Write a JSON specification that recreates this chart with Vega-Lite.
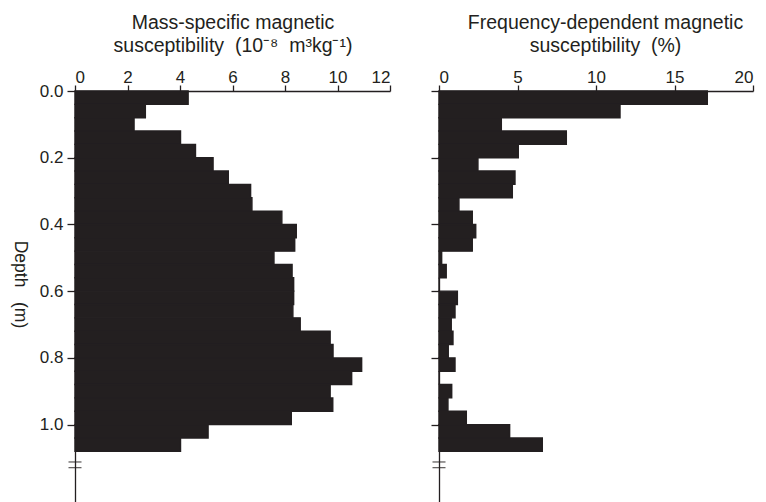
{
  "$schema": "https://vega.github.io/schema/vega-lite/v6.json",
  "background": "white",
  "padding": {"left": 10, "top": 12, "right": 5, "bottom": 0},
  "bounds": "flush",
  "spacing": 49,
  "config": {
    "view": {"stroke": null},
    "font": "Liberation Sans",
    "axis": {
      "grid": false,
      "domainColor": "#231f20",
      "domainWidth": 1.3,
      "tickColor": "#231f20",
      "tickWidth": 1.3,
      "labelColor": "#231f20",
      "titleColor": "#231f20",
      "labelFont": "Liberation Sans",
      "titleFont": "Liberation Sans",
      "labelFontSize": 17,
      "titleFontSize": 19.5,
      "titleFontWeight": "normal"
    }
  },
  "datasets": {
    "core": [
      {"top": 0.00, "bottom": 0.04, "chi": 4.31, "fd": 17.09},
      {"top": 0.04, "bottom": 0.08, "chi": 2.68, "fd": 11.53},
      {"top": 0.08, "bottom": 0.12, "chi": 2.25, "fd": 3.97},
      {"top": 0.12, "bottom": 0.16, "chi": 4.02, "fd": 8.11},
      {"top": 0.16, "bottom": 0.20, "chi": 4.59, "fd": 5.05},
      {"top": 0.20, "bottom": 0.24, "chi": 5.26, "fd": 2.48},
      {"top": 0.24, "bottom": 0.28, "chi": 5.84, "fd": 4.84},
      {"top": 0.28, "bottom": 0.32, "chi": 6.69, "fd": 4.67},
      {"top": 0.32, "bottom": 0.36, "chi": 6.74, "fd": 1.27},
      {"top": 0.36, "bottom": 0.40, "chi": 7.88, "fd": 2.12},
      {"top": 0.40, "bottom": 0.44, "chi": 8.43, "fd": 2.34},
      {"top": 0.44, "bottom": 0.48, "chi": 8.37, "fd": 2.12},
      {"top": 0.48, "bottom": 0.52, "chi": 7.58, "fd": 0.17},
      {"top": 0.52, "bottom": 0.56, "chi": 8.27, "fd": 0.46},
      {"top": 0.56, "bottom": 0.60, "chi": 8.33, "fd": 0},
      {"top": 0.60, "bottom": 0.64, "chi": 8.33, "fd": 1.17},
      {"top": 0.64, "bottom": 0.68, "chi": 8.30, "fd": 1.02},
      {"top": 0.68, "bottom": 0.72, "chi": 8.58, "fd": 0.78},
      {"top": 0.72, "bottom": 0.76, "chi": 9.72, "fd": 0.89},
      {"top": 0.76, "bottom": 0.80, "chi": 9.83, "fd": 0.59},
      {"top": 0.80, "bottom": 0.84, "chi": 10.92, "fd": 1.02},
      {"top": 0.84, "bottom": 0.88, "chi": 10.54, "fd": 0},
      {"top": 0.88, "bottom": 0.92, "chi": 9.72, "fd": 0.81},
      {"top": 0.92, "bottom": 0.96, "chi": 9.82, "fd": 0.57},
      {"top": 0.96, "bottom": 1.00, "chi": 8.24, "fd": 1.74},
      {"top": 1.00, "bottom": 1.04, "chi": 5.07, "fd": 4.50},
      {"top": 1.04, "bottom": 1.08, "chi": 4.02, "fd": 6.58}
    ],
    "breaks": [
      {"depth": 1.112},
      {"depth": 1.129}
    ]
  },
  "hconcat": [
    {
      "width": 315,
      "height": 411,
      "layer": [
        {
          "data": {"name": "core"},
          "mark": {"type": "rect", "fill": "#231f20", "stroke": "#231f20", "strokeWidth": 1.4, "strokeOpacity": 1, "fillOpacity": 1},
          "encoding": {
            "y": {
              "field": "top",
              "type": "quantitative",
              "scale": {"domain": [0, 1.232], "reverse": true, "nice": false, "zero": false},
              "axis": {
                "orient": "left",
                "values": [0, 0.2, 0.4, 0.6, 0.8, 1.0],
                "format": ".1f",
                "tickSize": 8,
                "labelPadding": 4,
                "title": "Depth\u00a0\u00a0\u00a0(m)",
                "titleAngle": 90,
                "titleBaseline": "top",
                "titleFontSize": 17.5,
                "titlePadding": 11,
                "titleY": 193
              }
            },
            "y2": {"field": "bottom"},
            "x": {
              "field": "chi",
              "type": "quantitative",
              "scale": {"domain": [0, 12], "nice": false},
              "axis": {
                "orient": "top",
                "values": [0, 2, 4, 6, 8, 10, 12],
                "tickSize": 6,
                "labelPadding": -1,
                "title": ["Mass-specific magnetic", "susceptibility\u00a0\u00a0(10⁻⁸\u00a0\u00a0m³kg⁻¹)"],
                "titleLineHeight": 23,
                "titlePadding": 13
              }
            },
            "x2": {"datum": 0}
          }
        },
        {
          "data": {"name": "breaks"},
          "mark": {"type": "tick", "orient": "horizontal", "size": 13, "thickness": 1.3, "color": "#231f20"},
          "encoding": {
            "x": {"datum": 0, "type": "quantitative"},
            "y": {"field": "depth", "type": "quantitative"}
          }
        }
      ]
    },
    {
      "width": 314,
      "height": 411,
      "layer": [
        {
          "data": {"name": "core"},
          "mark": {"type": "rect", "fill": "#231f20", "stroke": "#231f20", "strokeWidth": 1.4, "strokeOpacity": 1, "fillOpacity": 1},
          "encoding": {
            "y": {
              "field": "top",
              "type": "quantitative",
              "scale": {"domain": [0, 1.232], "reverse": true, "nice": false, "zero": false},
              "axis": {
                "orient": "left",
                "values": [0, 0.2, 0.4, 0.6, 0.8, 1.0],
                "labels": false,
                "tickSize": 8,
                "title": null
              }
            },
            "y2": {"field": "bottom"},
            "x": {
              "field": "fd",
              "type": "quantitative",
              "scale": {"domain": [0, 20], "nice": false},
              "axis": {
                "orient": "top",
                "values": [0, 5, 10, 15, 20],
                "tickSize": 6,
                "labelPadding": -1,
                "title": ["Frequency-dependent magnetic", "susceptibility\u00a0\u00a0(%)"],
                "titleLineHeight": 23,
                "titlePadding": 13,
                "titleX": 166
              }
            },
            "x2": {"datum": 0}
          }
        },
        {
          "data": {"name": "breaks"},
          "mark": {"type": "tick", "orient": "horizontal", "size": 13, "thickness": 1.3, "color": "#231f20"},
          "encoding": {
            "x": {"datum": 0, "type": "quantitative"},
            "y": {"field": "depth", "type": "quantitative"}
          }
        }
      ]
    }
  ]
}
